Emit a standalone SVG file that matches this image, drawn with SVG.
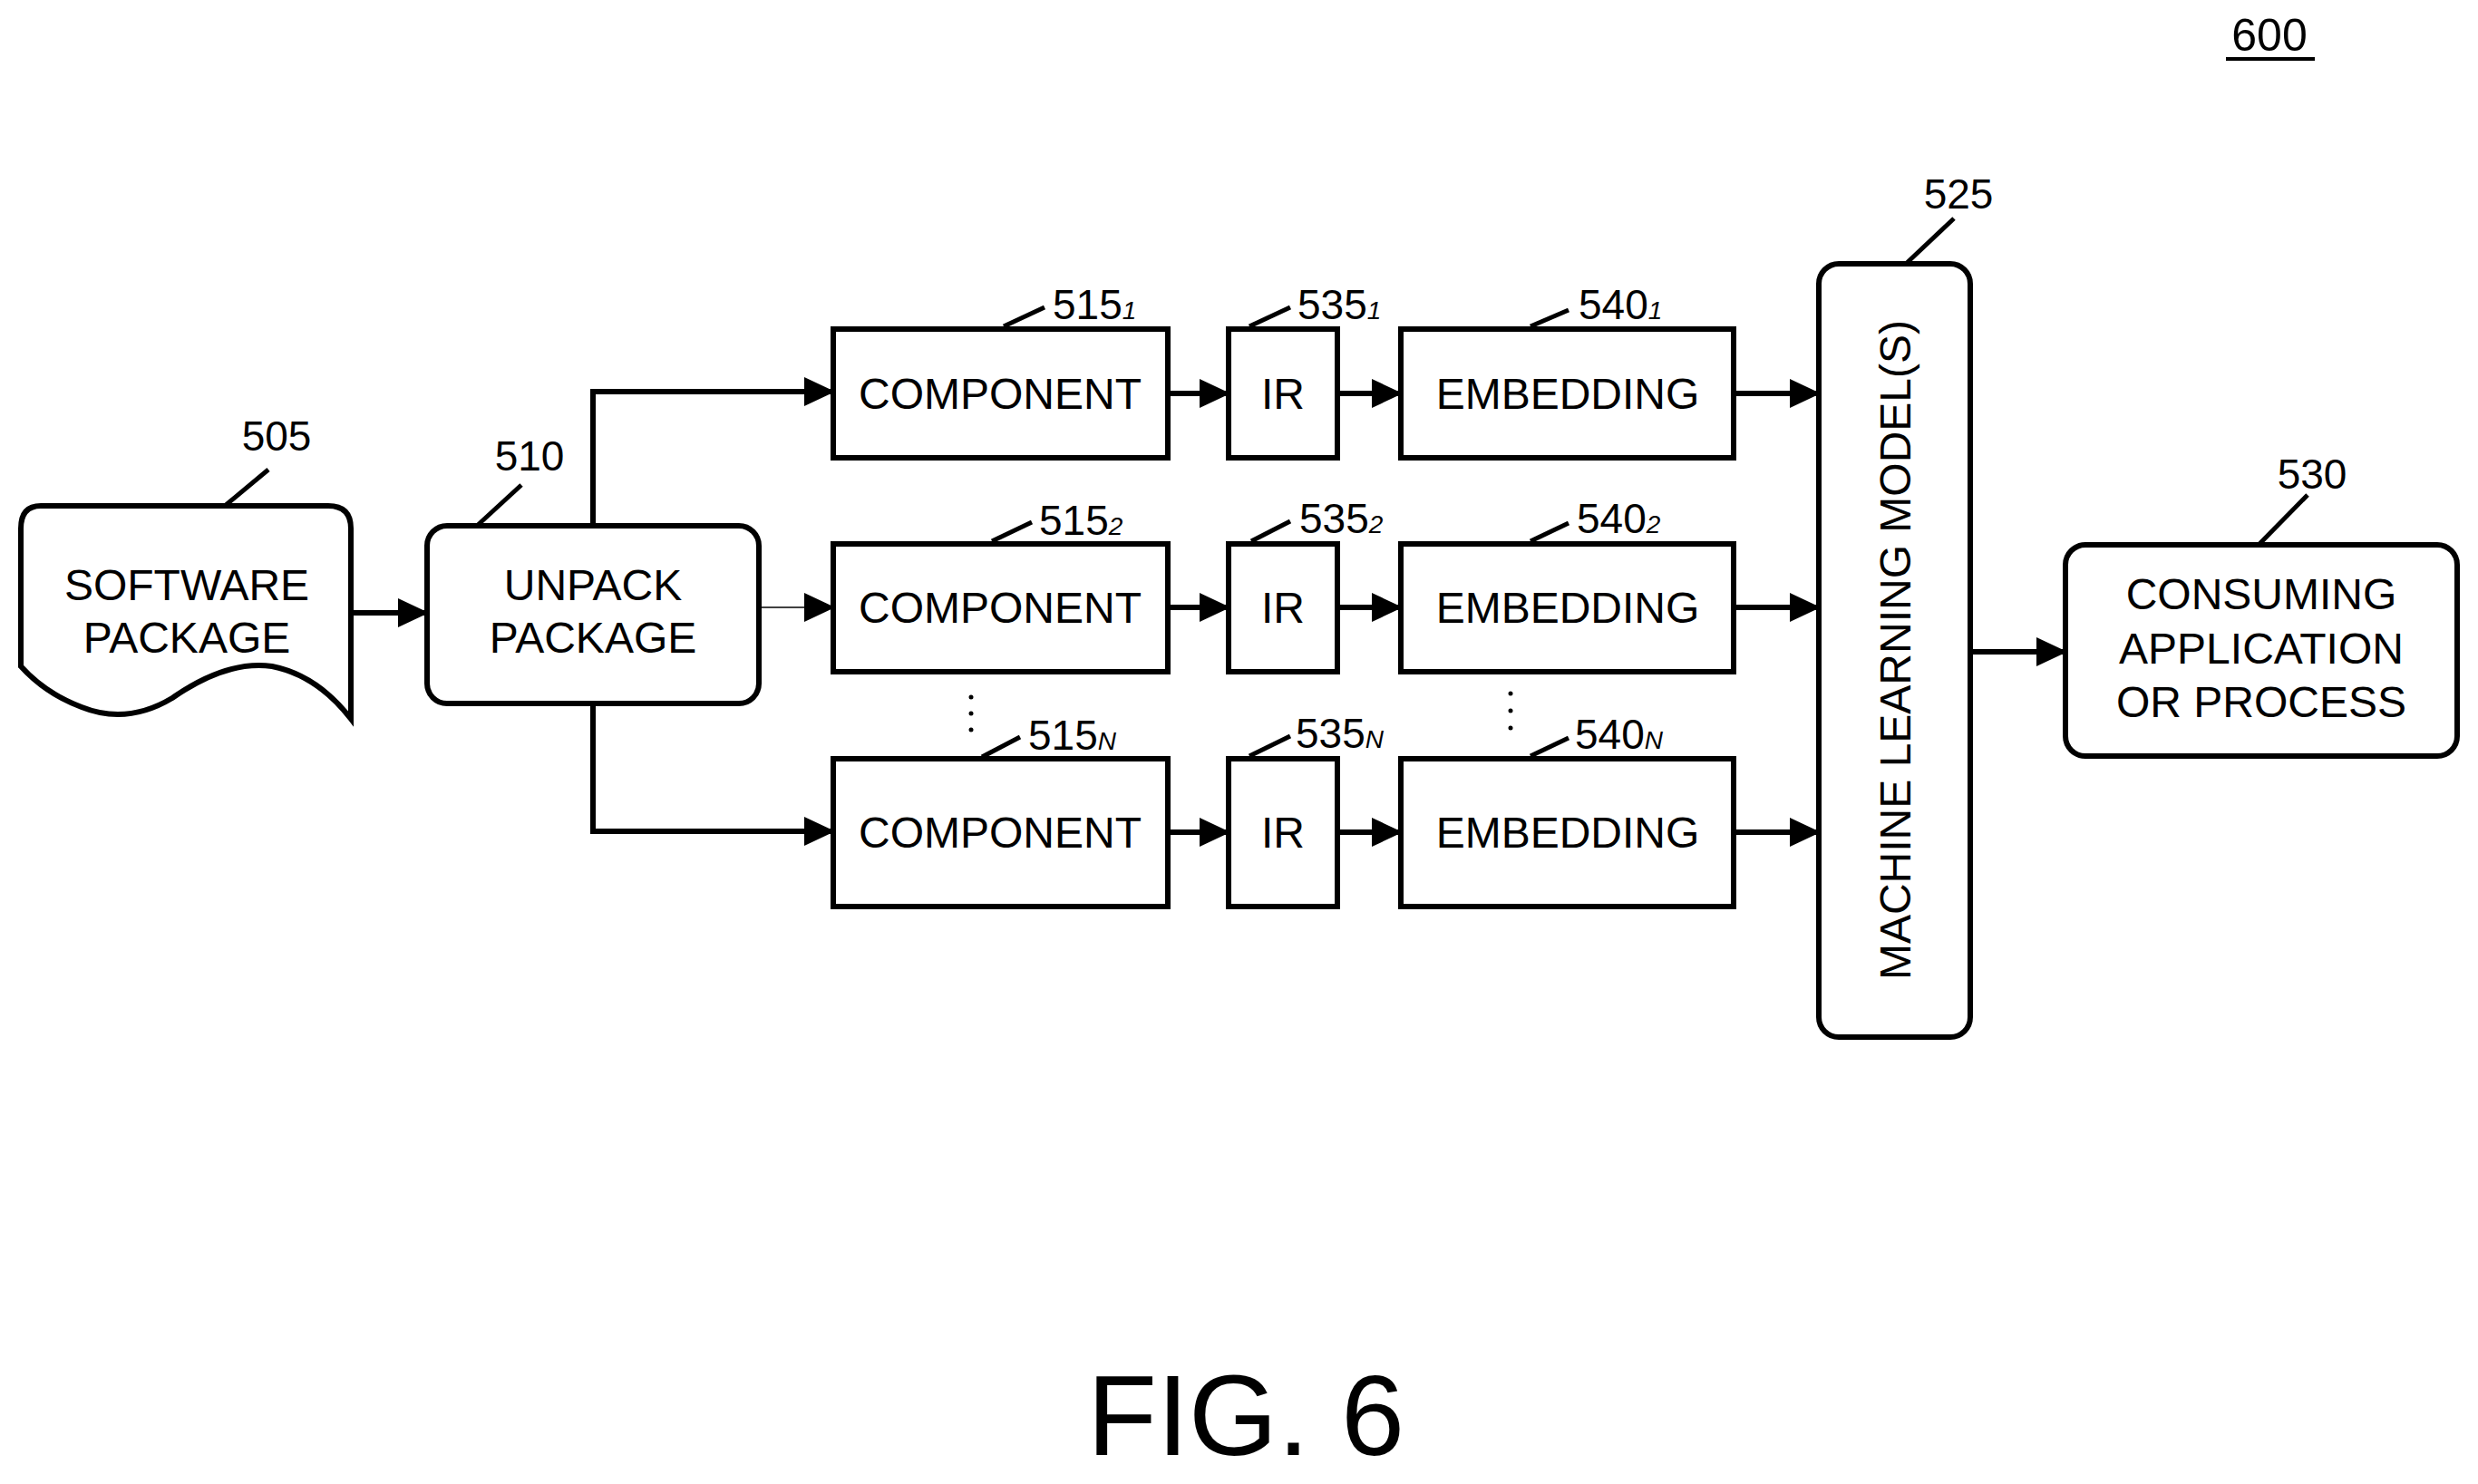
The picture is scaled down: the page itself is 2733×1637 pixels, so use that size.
<svg xmlns="http://www.w3.org/2000/svg" width="2733" height="1637" viewBox="0 0 2733 1637">
<style>
.b{fill:#fff;stroke:#000;stroke-width:6}
.l{fill:none;stroke:#000;stroke-width:6}
.ld{fill:none;stroke:#000;stroke-width:5}
text{font-family:"Liberation Sans",Arial,sans-serif;fill:#000}
.t{font-size:48px;text-anchor:middle}
.n{font-size:46px}
.s{font-size:28px;font-style:italic}
</style>
<defs>
<marker id="a" markerUnits="userSpaceOnUse" markerWidth="34" markerHeight="32" refX="32" refY="16" orient="auto"><path d="M0,0L34,16L0,32Z" fill="#000"/></marker>
</defs>
<rect width="2733" height="1637" fill="#fff"/>
<text x="2503" y="56" font-size="50" text-anchor="middle">600</text>
<line x1="2455" y1="65" x2="2553" y2="65" stroke="#000" stroke-width="4"/>
<g id="n505">
<path class="b" d="M45,558H362Q387,558 387,583V793Q350,745 300,735Q250,728 190,770Q140,800 90,780Q50,765 23,735V583Q23,558 45,558Z"/>
<text class="t" x="206" y="662">SOFTWARE</text><text class="t" x="206" y="720">PACKAGE</text>
<line class="ld" x1="248" y1="558" x2="296" y2="518"/><text class="n" x="305" y="497" text-anchor="middle">505</text>
</g>
<g id="n510">
<rect class="b" x="471" y="580" width="366" height="196" rx="22"/>
<text class="t" x="654" y="662">UNPACK</text><text class="t" x="654" y="720">PACKAGE</text>
<line class="ld" x1="526" y1="580" x2="575" y2="535"/><text class="n" x="584" y="519" text-anchor="middle">510</text>
</g>
<g id="n515">
<rect class="b" x="919" y="363" width="369" height="142"/><text class="t" x="1103" y="451">COMPONENT</text>
<rect class="b" x="919" y="600" width="369" height="141"/><text class="t" x="1103" y="687">COMPONENT</text>
<rect class="b" x="919" y="837" width="369" height="163"/><text class="t" x="1103" y="935">COMPONENT</text>
<line class="ld" x1="1107" y1="360" x2="1152" y2="339"/><text class="n" x="1161" y="352">515<tspan class="s">1</tspan></text>
<line class="ld" x1="1094" y1="597" x2="1138" y2="576"/><text class="n" x="1146" y="590">515<tspan class="s">2</tspan></text>
<line class="ld" x1="1083" y1="835" x2="1125" y2="813"/><text class="n" x="1134" y="827">515<tspan class="s">N</tspan></text>
<circle cx="1071" cy="769" r="2.5"/><circle cx="1071" cy="787" r="2.5"/><circle cx="1071" cy="805" r="2.5"/>
</g>
<g id="n535">
<rect class="b" x="1355" y="363" width="120" height="142"/><text class="t" x="1415" y="451">IR</text>
<rect class="b" x="1355" y="600" width="120" height="141"/><text class="t" x="1415" y="687">IR</text>
<rect class="b" x="1355" y="837" width="120" height="163"/><text class="t" x="1415" y="935">IR</text>
<line class="ld" x1="1378" y1="360" x2="1423" y2="339"/><text class="n" x="1431" y="352">535<tspan class="s">1</tspan></text>
<line class="ld" x1="1380" y1="597" x2="1423" y2="575"/><text class="n" x="1433" y="588">535<tspan class="s">2</tspan></text>
<line class="ld" x1="1378" y1="834" x2="1423" y2="812"/><text class="n" x="1429" y="825">535<tspan class="s">N</tspan></text>
</g>
<g id="n540">
<rect class="b" x="1545" y="363" width="367" height="142"/><text class="t" x="1729" y="451">EMBEDDING</text>
<rect class="b" x="1545" y="600" width="367" height="141"/><text class="t" x="1729" y="687">EMBEDDING</text>
<rect class="b" x="1545" y="837" width="367" height="163"/><text class="t" x="1729" y="935">EMBEDDING</text>
<line class="ld" x1="1688" y1="360" x2="1730" y2="342"/><text class="n" x="1741" y="352">540<tspan class="s">1</tspan></text>
<line class="ld" x1="1688" y1="597" x2="1730" y2="577"/><text class="n" x="1739" y="588">540<tspan class="s">2</tspan></text>
<line class="ld" x1="1688" y1="834" x2="1730" y2="814"/><text class="n" x="1737" y="826">540<tspan class="s">N</tspan></text>
<circle cx="1666" cy="765" r="2.5"/><circle cx="1666" cy="784" r="2.5"/><circle cx="1666" cy="803" r="2.5"/>
</g>
<g id="n525">
<rect class="b" x="2006" y="291" width="167" height="853" rx="22"/>
<text class="t" font-size="50" transform="translate(2107,717) rotate(-90)">MACHINE LEARNING MODEL(S)</text>
<line class="ld" x1="2102" y1="291" x2="2155" y2="241"/><text class="n" x="2160" y="230" text-anchor="middle">525</text>
</g>
<g id="n530">
<rect class="b" x="2278" y="601" width="432" height="233" rx="22"/>
<text class="t" x="2494" y="672">CONSUMING</text><text class="t" x="2494" y="732">APPLICATION</text><text class="t" x="2494" y="791">OR PROCESS</text>
<line class="ld" x1="2491" y1="601" x2="2545" y2="546"/><text class="n" x="2550" y="539" text-anchor="middle">530</text>
</g>
<g id="connectors">
<line class="l" x1="387" y1="676" x2="471" y2="676" marker-end="url(#a)"/>
<polyline class="l" points="654,580 654,432 919,432" marker-end="url(#a)"/>
<polyline class="l" points="654,776 654,917 919,917" marker-end="url(#a)"/>
<line x1="837" y1="670" x2="919" y2="670" stroke="#000" stroke-width="1.5" marker-end="url(#a)"/>
<line class="l" x1="1288" y1="434" x2="1355" y2="434" marker-end="url(#a)"/>
<line class="l" x1="1288" y1="670" x2="1355" y2="670" marker-end="url(#a)"/>
<line class="l" x1="1288" y1="918" x2="1355" y2="918" marker-end="url(#a)"/>
<line class="l" x1="1475" y1="434" x2="1545" y2="434" marker-end="url(#a)"/>
<line class="l" x1="1475" y1="670" x2="1545" y2="670" marker-end="url(#a)"/>
<line class="l" x1="1475" y1="918" x2="1545" y2="918" marker-end="url(#a)"/>
<line class="l" x1="1912" y1="434" x2="2006" y2="434" marker-end="url(#a)"/>
<line class="l" x1="1912" y1="670" x2="2006" y2="670" marker-end="url(#a)"/>
<line class="l" x1="1912" y1="918" x2="2006" y2="918" marker-end="url(#a)"/>
<line class="l" x1="2173" y1="719" x2="2278" y2="719" marker-end="url(#a)"/>
</g>
<text x="1374" y="1605" font-size="126" text-anchor="middle">FIG. 6</text>
</svg>
